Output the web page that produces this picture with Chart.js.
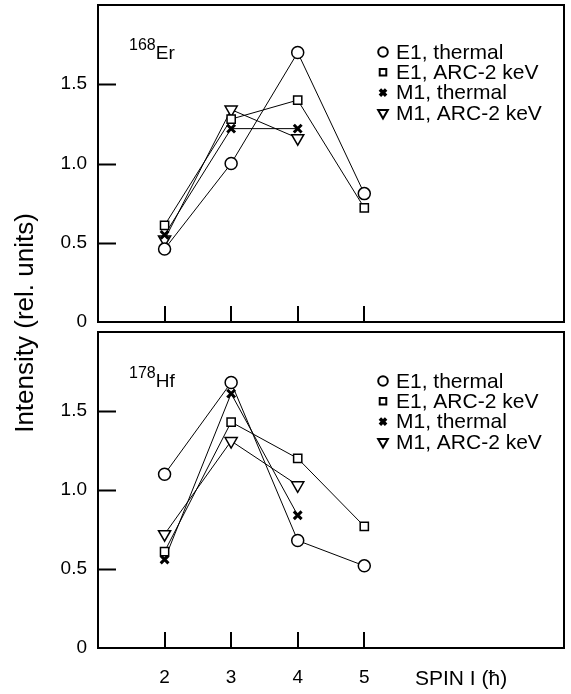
<!DOCTYPE html>
<html lang="en">
<head>
<meta charset="UTF-8">
<title>Intensity vs spin - 168Er / 178Hf</title>
<script src="https://cdn.jsdelivr.net/npm/chart.js"></script>
<style>
  body { margin: 0; background: #fff; font-family: "Liberation Sans", Arial, sans-serif; color: #000; }
  #wrap { position: relative; width: 571px; height: 694px; overflow: hidden; }
  canvas { position: absolute; left: 0; }
  #topChart { top: 0; }
  #botChart { top: 327px; }
  .nuc { position: absolute; left: 129px; font-size: 19px; line-height: 22px; white-space: nowrap; }
  .nuc .mass { font-size: 16px; position: relative; top: -9px; }
  #ytitle { position: absolute; left: -126px; top: 308px; width: 300px; height: 30px; line-height: 30px;
            text-align: center; font-size: 26px; transform: rotate(-90deg); white-space: nowrap; }
  #xtitle { position: absolute; left: 415px; top: 666px; font-size: 21px; line-height: 24px; white-space: nowrap; }
</style>
</head>
<body>
<div id="wrap">
  <canvas id="topChart" width="571" height="327"></canvas>
  <canvas id="botChart" width="571" height="367"></canvas>
  <div class="nuc" style="top:42px"><span class="mass">168</span>Er</div>
  <div class="nuc" style="top:370px"><span class="mass">178</span>Hf</div>
  <div id="ytitle">Intensity (rel. units)</div>
  <div id="xtitle">SPIN I (&#295;)</div>
</div>
<script>
// spin values on the x axis
const spins = [2, 3, 4, 5];
const yTicks = [0, 0.5, 1.0, 1.5];
const yTickLabels = ['0', '0.5', '1.0', '1.5'];
const seriesNames = ['E1, thermal', 'E1, ARC-2 keV', 'M1, thermal', 'M1, ARC-2 keV'];

// 168Er
const erE1Thermal = [0.46, 1.00, 1.70, 0.81];
const erE1Arc     = [0.61, 1.28, 1.40, 0.72];
const erM1Thermal = [0.55, 1.22, 1.22];
const erM1Arc     = [0.52, 1.34, 1.16];

// 178Hf
const hfE1Thermal = [1.10, 1.68, 0.68, 0.52];
const hfE1Arc     = [0.61, 1.43, 1.20, 0.77];
const hfM1Thermal = [0.56, 1.61, 0.84];
const hfM1Arc     = [0.72, 1.31, 1.03];

Chart.defaults.color = '#000';
Chart.defaults.font.family = '"Liberation Sans", Arial, sans-serif';

const markers = [
    { pointStyle: 'circle',   pointRadius: 6,   pointRotation: 0,   pointBorderWidth: 1.5 },
    { pointStyle: 'rect',     pointRadius: 5.8, pointRotation: 0,   pointBorderWidth: 1.5 },
    { pointStyle: 'crossRot', pointRadius: 5.5, pointRotation: 0,   pointBorderWidth: 3 },
    { pointStyle: 'triangle', pointRadius: 7,   pointRotation: 180, pointBorderWidth: 1.5 }
];

function makeDatasets(series) {
    return series.map((vals, i) => Object.assign({
        label: seriesNames[i],
        data: vals.map((v, k) => ({ x: spins[k], y: v })),
        borderColor: '#000',
        borderWidth: 1,
        tension: 0,
        pointBackgroundColor: '#fff',
        pointBorderColor: '#000',
        pointHoverRadius: 6
    }, markers[i]));
}

// box, inward tick marks and in-plot legend
const framePlugin = {
    id: 'frame',
    afterDraw(chart, args, opts) {
        const ctx = chart.ctx, a = chart.chartArea;
        const xs = chart.scales.x, ys = chart.scales.y;
        ctx.save();
        ctx.strokeStyle = '#000';
        ctx.lineWidth = 2;
        ctx.strokeRect(a.left, a.top, a.right - a.left, a.bottom - a.top);
        ctx.beginPath();
        yTicks.slice(1).forEach(v => {
            const y = Math.round(ys.getPixelForValue(v)) + 0.5;
            ctx.moveTo(a.left, y); ctx.lineTo(a.left + 18, y);
        });
        spins.forEach(v => {
            const x = Math.round(xs.getPixelForValue(v));
            ctx.moveTo(x, a.bottom); ctx.lineTo(x, a.bottom - 16);
        });
        ctx.stroke();

        chart.data.datasets.forEach((ds, i) => {
            const y = a.top + opts.top + i * opts.gap;
            ctx.fillStyle = '#fff';
            ctx.strokeStyle = '#000';
            ctx.lineWidth = ds.pointBorderWidth + 0.5;
            Chart.helpers.drawPoint(ctx, {
                pointStyle: ds.pointStyle, rotation: ds.pointRotation,
                radius: ds.pointRadius * 0.8, borderWidth: ds.pointBorderWidth + 0.5
            }, opts.x, y);
            ctx.fillStyle = '#000';
            ctx.font = '21px "Liberation Sans", Arial, sans-serif';
            ctx.textBaseline = 'middle';
            ctx.fillText(ds.label, opts.x + 13, y + 1);
        });
        ctx.restore();
    }
};

function makeChart(id, series, showX, xHeight, legendTop) {
    return new Chart(document.getElementById(id), {
        type: 'line',
        data: { datasets: makeDatasets(series) },
        plugins: [framePlugin],
        options: {
            responsive: false,
            animation: false,
            layout: { autoPadding: false, padding: { top: 5, right: 7, left: 0, bottom: 0 } },
            plugins: {
                legend: { display: false },
                tooltip: { enabled: false },
                frame: { x: 383, top: legendTop, gap: 20.3 }
            },
            scales: {
                x: {
                    type: 'linear', min: 1, max: 8,
                    afterBuildTicks: s => { s.ticks = spins.map(v => ({ value: v })); },
                    grid: { display: false, drawTicks: false },
                    border: { display: false },
                    ticks: { display: showX, padding: 18, maxRotation: 0, font: { size: 19 } },
                    afterFit: s => { s.height = xHeight; s.paddingLeft = 0; s.paddingRight = 0; }
                },
                y: {
                    min: 0, max: 2,
                    afterBuildTicks: s => { s.ticks = yTicks.map(v => ({ value: v })); },
                    grid: { display: false, drawTicks: false },
                    border: { display: false },
                    ticks: { padding: 11, font: { size: 19 }, callback: (v, i) => yTickLabels[i] },
                    afterFit: s => { s.width = 98; s.paddingTop = 0; s.paddingBottom = 0; }
                }
            }
        }
    });
}

makeChart('topChart', [erE1Thermal, erE1Arc, erM1Thermal, erM1Arc], false, 5, 47);
makeChart('botChart', [hfE1Thermal, hfE1Arc, hfM1Thermal, hfM1Arc], true, 46, 49);
</script>
</body>
</html>
